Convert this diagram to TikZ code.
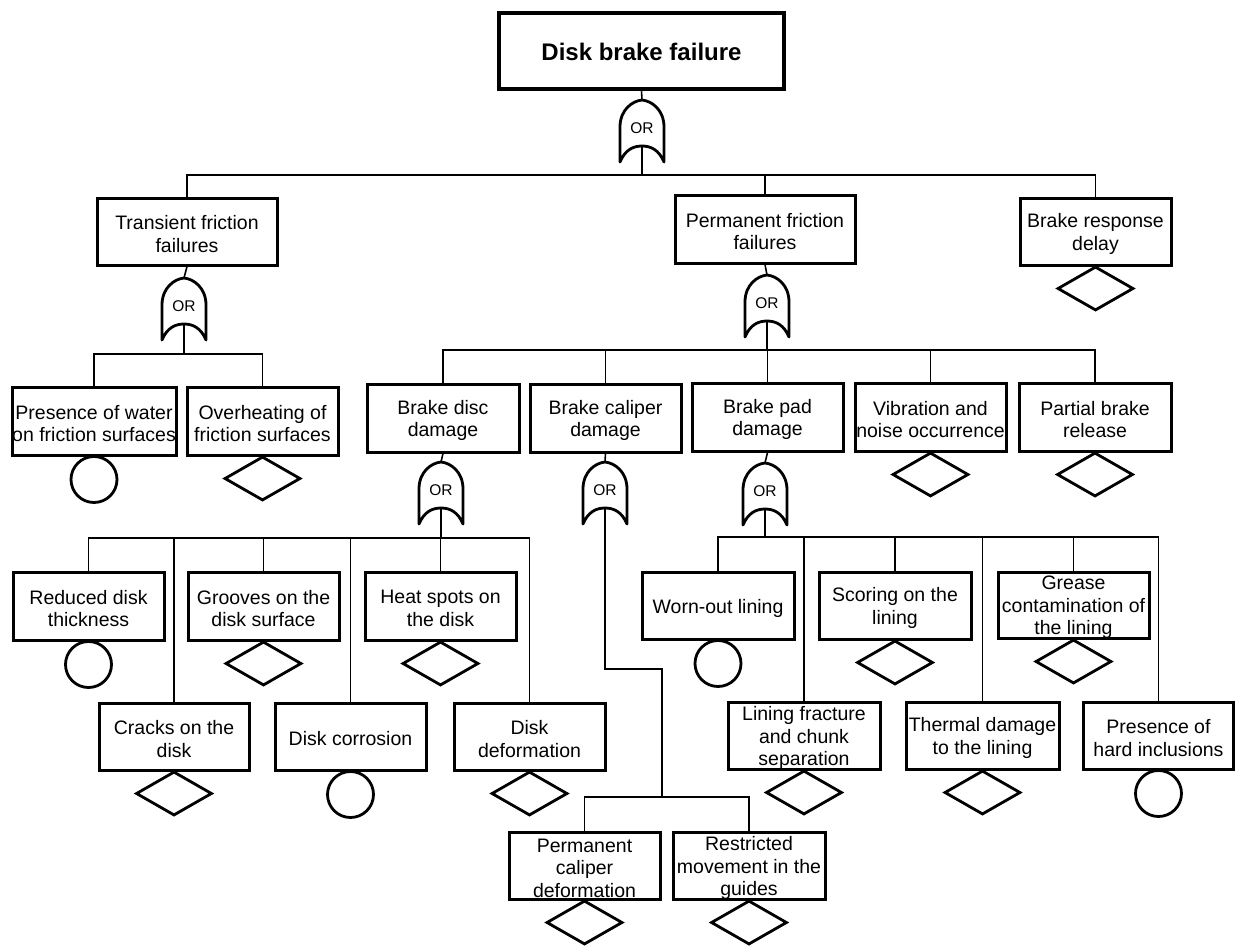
\documentclass[tikz,border=0pt]{standalone}
\usepackage{fontspec}
\setmainfont{Liberation Sans}
\usetikzlibrary{shapes.geometric}
\tikzset{
 boxst/.style={draw, line width=3pt, rectangle, inner sep=0pt, fill=white},
 topst/.style={draw, line width=4.5pt, rectangle, inner sep=0pt, fill=white},
 txt/.style={align=center, inner sep=0pt, font=\fontsize{19.5}{22.5}\selectfont},
 conn/.style={line width=1.6pt},
 gatest/.style={line width=2.8pt, fill=white, line join=round},
 ortxt/.style={inner sep=0pt, font=\fontsize{15.5}{17}\selectfont},
 evc/.style={draw, circle, line width=2.8pt, minimum size=46pt, inner sep=0pt},
 evd/.style={draw, diamond, line width=2.8pt, minimum width=76pt, minimum height=44pt, inner sep=0pt},
 orgate/.pic={
  \draw[gatest] (-22,62) -- (-22,27) .. controls (-22,10) and (-10,1) .. (0,0)
     .. controls (10,1) and (22,10) .. (22,27) -- (22,62)
     .. controls (17,50) and (9,46) .. (0,46)
     .. controls (-9,46) and (-17,50) .. (-22,62) -- cycle;
  \coordinate (-top) at (0,0);
  \coordinate (-out) at (0,46);
  \node[ortxt] (-lbl) at (0,28.5) {OR};
 }
}
\newcommand\ebox[6]{%
 \node[boxst, minimum width=#4pt, minimum height=#5pt] (#1) at (#2,#3) {};
 \node[txt] (#1-t) at ([yshift=-2.5pt]#1.center) {#6};}
\newcommand\evcirc[1]{\node[evc] (#1-e) at ([yshift=-23pt]#1.south) {};}
\newcommand\evdiam[1]{\node[evd] (#1-e) at ([yshift=-22pt]#1.south) {};}
\begin{document}
\begin{tikzpicture}[x=1pt,y=-1pt]
\useasboundingbox (0,0) rectangle (1235,951);
% junction coordinates
\coordinate (j0) at (642,175);
\coordinate (jT) at (184,354);
\coordinate (jP) at (767,350);
\coordinate (jD) at (441,538);
\coordinate (jB) at (765,537);
\coordinate (cb1) at (662,669);
\coordinate (cb2) at (662,797);

% boxes
\node[topst, minimum width=285pt, minimum height=76pt] (top) at (641.5,51) {};
\node[inner sep=0pt, font=\fontsize{24}{28}\selectfont\bfseries] (top-t) at ([yshift=-1pt]top.center) {Disk brake failure};

\ebox{trans}{187}{231.5}{180}{67}{Transient friction\\failures}
\ebox{perm}{765}{229}{180}{68}{Permanent friction\\failures}
\ebox{resp}{1095.5}{231.5}{151}{67}{Brake response\\delay}

\ebox{water}{94}{421}{164}{68}{Presence of water\\on friction surfaces}
\ebox{over}{262.5}{421}{151}{68}{Overheating of\\friction surfaces}

\ebox{disc}{443}{418}{152}{68}{Brake disc\\damage}
\ebox{cal}{605.5}{418}{151}{68}{Brake caliper\\damage}
\ebox{pad}{767.5}{417}{151}{68}{Brake pad\\damage}
\ebox{vib}{930.5}{417}{151}{68}{Vibration and\\noise occurrence}
\ebox{part}{1095}{417}{152}{68}{Partial brake\\release}

\ebox{red}{88.5}{606}{151}{68}{Reduced disk\\thickness}
\ebox{groo}{263.5}{606}{151}{68}{Grooves on the\\disk surface}
\ebox{heat}{440.5}{606}{151}{68}{Heat spots on\\the disk}
\ebox{crack}{174}{736.5}{150}{67}{Cracks on the\\disk}
\ebox{corr}{350.5}{736.5}{151}{67}{Disk corrosion}
\ebox{defo}{529.5}{736.5}{151}{67}{Disk\\deformation}

\ebox{worn}{718}{605.5}{152}{67}{Worn-out lining}
\ebox{scor}{895}{605.5}{152}{67}{Scoring on the\\lining}
\ebox{grea}{1073.5}{605}{151}{66}{Grease\\contamination of\\the lining}
\ebox{frac}{804}{735.5}{152}{67}{Lining fracture\\and chunk\\separation}
\ebox{therm}{982.5}{735.5}{153}{67}{Thermal damage\\to the lining}
\ebox{hard}{1158.5}{735.5}{150}{67}{Presence of\\hard inclusions}

\ebox{pcd}{584.5}{865.5}{151}{67}{Permanent\\caliper\\deformation}
\ebox{rmg}{749}{865.5}{152}{67}{Restricted\\movement in the\\guides}

% gates
\pic (g0) at (642,100) {orgate};
\pic (gT) at (184,278) {orgate};
\pic (gP) at (767,275) {orgate};
\pic (gD) at (441,462) {orgate};
\pic (gC) at (605,462) {orgate};
\pic (gB) at (765,463) {orgate};

% connectors
\draw[conn] (top.south) -- (g0-top);
\draw[conn] (g0-out) -- (j0);
\draw[conn] (trans.north) |- (j0) -| (resp.north);
\draw[conn] (perm.north) |- (j0);

\draw[conn] (trans.south) -- (gT-top);
\draw[conn] (gT-out) -- (jT);
\draw[conn] (water.north) |- (jT) -| (over.north);

\draw[conn] (perm.south) -- (gP-top);
\draw[conn] (gP-out) -- (jP);
\draw[conn] (disc.north) |- (jP) -| (part.north);
\draw[conn] (cal.north) |- (jP);
\draw[conn] (pad.north) |- (jP);
\draw[conn] (vib.north) |- (jP);

\draw[conn] (disc.south) -- (gD-top);
\draw[conn] (gD-out) -- (jD);
\draw[conn] (red.north) |- (jD) -| (defo.north);
\draw[conn] (crack.north) |- (jD);
\draw[conn] (groo.north) |- (jD);
\draw[conn] (corr.north) |- (jD);
\draw[conn] (heat.north) |- (jD);

\draw[conn] (cal.south) -- (gC-top);
\draw[conn] (gC-out) |- (cb1) -- (cb2);
\draw[conn] (pcd.north) |- (cb2) -| (rmg.north);

\draw[conn] (pad.south) -- (gB-top);
\draw[conn] (gB-out) -- (jB);
\draw[conn] (worn.north) |- (jB) -| (hard.north);
\draw[conn] (frac.north) |- (jB);
\draw[conn] (scor.north) |- (jB);
\draw[conn] (therm.north) |- (jB);
\draw[conn] (grea.north) |- (jB);

% basic / undeveloped events
\evcirc{water}
\evdiam{over}
\evdiam{resp}
\evdiam{vib}
\evdiam{part}
\evcirc{red}
\evdiam{groo}
\evdiam{heat}
\evdiam{crack}
\evcirc{corr}
\evdiam{defo}
\evcirc{worn}
\evdiam{scor}
\evdiam{grea}
\evdiam{frac}
\evdiam{therm}
\evcirc{hard}
\evdiam{pcd}
\evdiam{rmg}
\end{tikzpicture}
\end{document}
